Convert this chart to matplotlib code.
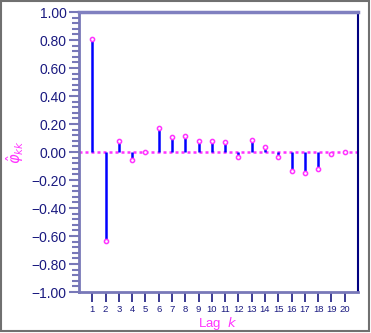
import numpy as np
import matplotlib.pyplot as plt
from matplotlib.patches import Rectangle
from matplotlib.ticker import MultipleLocator

# partial autocorrelation values
lags = list(range(1, 21))
pacf = [0.807, -0.634, 0.081, -0.057, 0.002, 0.174, 0.110, 0.112, 0.079, 0.081,
        0.071, -0.038, 0.086, 0.036, -0.033, -0.133, -0.152, -0.119, -0.014, -0.002]

yticks = [1.0, 0.8, 0.6, 0.4, 0.2, 0.0, -0.2, -0.4, -0.6, -0.8, -1.0]

plt.rcParams['font.family'] = ['Liberation Sans', 'DejaVu Sans']
plt.rcParams['axes.unicode_minus'] = True

navy = '#1a1a80'
slate = '#7878b8'
magenta = '#ff33ff'

fig = plt.figure(figsize=(3.71, 3.33), dpi=100)
ax = fig.add_axes([79 / 371, 1 - 292 / 333, 279 / 371, 280 / 333])

# zero line
ax.axhline(0, color=magenta, lw=1.8, ls=(0, (1.2, 1.2)), zorder=1)

ax.vlines(lags, 0, pacf, color='#0000ff', lw=1.8, zorder=2)
ax.plot(lags, pacf, 'o', ms=3.0, mfc='white', mec=magenta, mew=1.1, zorder=3)

ax.set_xlim(0, 21)
ax.set_ylim(-1, 1)
ax.set_xticks(lags)
ax.set_xticklabels([str(l) for l in lags], fontsize=6.8, color=navy)
ax.set_yticks(yticks)
ax.set_yticklabels([f'{v:.2f}'.replace('-', '\u2212') for v in yticks],
                   fontsize=10, color=navy)
ax.yaxis.set_minor_locator(MultipleLocator(0.04))

ax.tick_params(axis='y', which='major', direction='out', length=7, width=1.5,
               color=slate, pad=2)
ax.tick_params(axis='y', which='minor', direction='out', length=5, width=1.5,
               color=slate)
ax.tick_params(axis='x', which='major', direction='out', length=7, width=1.2,
               color=navy, pad=2)

ax.spines['top'].set_color('#8080c0')
ax.spines['top'].set_linewidth(2.5)
ax.spines['left'].set_color(slate)
ax.spines['left'].set_linewidth(2)
ax.spines['bottom'].set_color(slate)
ax.spines['bottom'].set_linewidth(2)
ax.spines['right'].set_color('#000080')
ax.spines['right'].set_linewidth(1.5)

fig.text(218 / 371, 1 - 323 / 333, r'Lag  $k$', fontsize=9.5, color=magenta,
         ha='center', va='center')
fig.text(15 / 371, 1 - 152 / 333, r'$\hat{\varphi}_{kk}$', rotation=90,
         fontsize=10.5, color=magenta, ha='center', va='center')

# outer grey frame
fig.patches.append(Rectangle((1 / 371, 2 / 333), 368 / 371, 330 / 333,
                             transform=fig.transFigure, fill=False,
                             edgecolor='#707070', lw=1.5))

fig.savefig('out.png', dpi=100)
